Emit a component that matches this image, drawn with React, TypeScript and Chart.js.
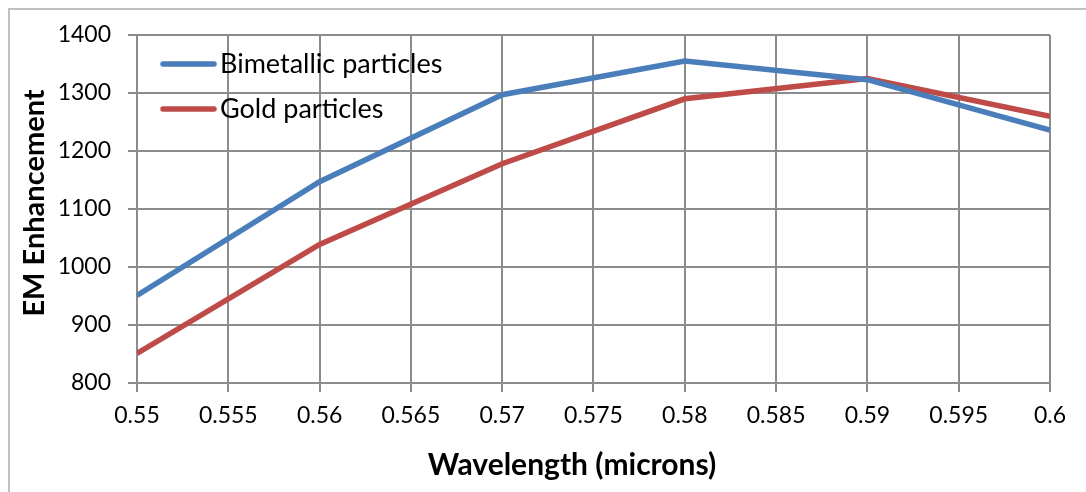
import React, { useEffect, useRef } from "react";
import { Chart, registerables } from "chart.js";

Chart.register(...registerables);

const wavelengths = [0.55, 0.56, 0.57, 0.58, 0.59, 0.6];
const bimetallic = [951, 1147, 1297, 1355, 1323, 1236];
const gold = [851, 1039, 1178, 1290, 1325, 1260];
const seriesNames = ["Bimetallic particles", "Gold particles"];
const seriesColors = ["#4a7ebb", "#be4b48"];
const xTitle = "Wavelength (microns)";
const yTitle = "EM Enhancement";

const FONT = "Lato, 'Open Sans', sans-serif";

const decorPlugin = {
  id: "decor",
  beforeDraw(chart: any) {
    const ctx = chart.ctx;
    ctx.save();
    ctx.fillStyle = "#ffffff";
    ctx.fillRect(0, 0, chart.width, chart.height);
    ctx.strokeStyle = "#c0c0c0";
    ctx.lineWidth = 2;
    ctx.beginPath();
    ctx.moveTo(9, chart.height + 5);
    ctx.lineTo(9, 9);
    ctx.lineTo(chart.width + 5, 9);
    ctx.stroke();
    ctx.restore();
  },
  afterDraw(chart: any) {
    const ctx = chart.ctx;
    ctx.save();
    ctx.fillStyle = "#000000";
    ctx.font = `bold 30px ${FONT}`;
    ctx.textAlign = "center";
    ctx.textBaseline = "middle";
    ctx.fillText(xTitle, 572, 465);
    ctx.font = `bold 29px ${FONT}`;
    ctx.translate(35, 203);
    ctx.rotate(-Math.PI / 2);
    ctx.fillText(yTitle, 0, 0);
    ctx.restore();

    ctx.save();
    const items = chart.data.datasets;
    ctx.font = `27px ${FONT}`;
    ctx.textAlign = "left";
    ctx.textBaseline = "middle";
    items.forEach((ds: any, i: number) => {
      const y = 64 + i * 45;
      ctx.strokeStyle = ds.borderColor;
      ctx.lineWidth = 5.5;
      ctx.lineCap = "round";
      ctx.beginPath();
      ctx.moveTo(163, y);
      ctx.lineTo(214, y);
      ctx.stroke();
      ctx.fillStyle = "#000000";
      ctx.fillText(ds.label, 220, y);
    });
    ctx.restore();
  },
};

export default function App() {
  const ref = useRef<HTMLCanvasElement | null>(null);
  useEffect(() => {
    if (!ref.current) return;
    const mk = (vals: number[]) => wavelengths.map((x, i) => ({ x, y: vals[i] }));
    const chart = new Chart(ref.current, {
      type: "line",
      data: {
        datasets: [
          {
            label: seriesNames[0],
            data: mk(bimetallic),
            borderColor: seriesColors[0],
            backgroundColor: seriesColors[0],
            borderWidth: 5.5,
            pointRadius: 0,
            tension: 0,
          },
          {
            label: seriesNames[1],
            data: mk(gold),
            borderColor: seriesColors[1],
            backgroundColor: seriesColors[1],
            borderWidth: 5.5,
            pointRadius: 0,
            tension: 0,
          },
        ],
      },
      options: {
        animation: false,
        responsive: false,
        maintainAspectRatio: false,
        layout: { padding: { left: 0, right: 36, top: 35, bottom: 0 } },
        plugins: {
          legend: { display: false },
          tooltip: { enabled: false },
        },
        scales: {
          x: {
            type: "linear",
            min: 0.55,
            max: 0.6,
            ticks: {
              stepSize: 0.005,
              color: "#000000",
              font: { family: FONT, size: 23 },
              padding: 10,
              maxRotation: 0,
              autoSkip: false,
              callback: (v: any) => String(Number(Number(v).toFixed(3))),
            },
            grid: { color: "#8c8c8c", lineWidth: 2, tickLength: 9 },
            border: { color: "#8c8c8c", width: 2 },
            afterFit: (s: any) => {
              s.height = 109;
            },
          },
          y: {
            min: 800,
            max: 1400,
            ticks: {
              stepSize: 100,
              color: "#000000",
              font: { family: FONT, size: 23 },
              padding: 17,
              callback: (v: any) => String(v),
            },
            grid: { color: "#8c8c8c", lineWidth: 2, tickLength: 9 },
            border: { color: "#8c8c8c", width: 2 },
            afterFit: (s: any) => {
              s.width = 137;
            },
          },
        },
      },
      plugins: [decorPlugin],
    });
    return () => chart.destroy();
  }, []);
  return (
    <div style={{ position: "absolute", left: 0, top: 0, width: 1086, height: 492 }}>
      <canvas ref={ref} width={1086} height={492} style={{ display: "block" }} />
    </div>
  );
}
